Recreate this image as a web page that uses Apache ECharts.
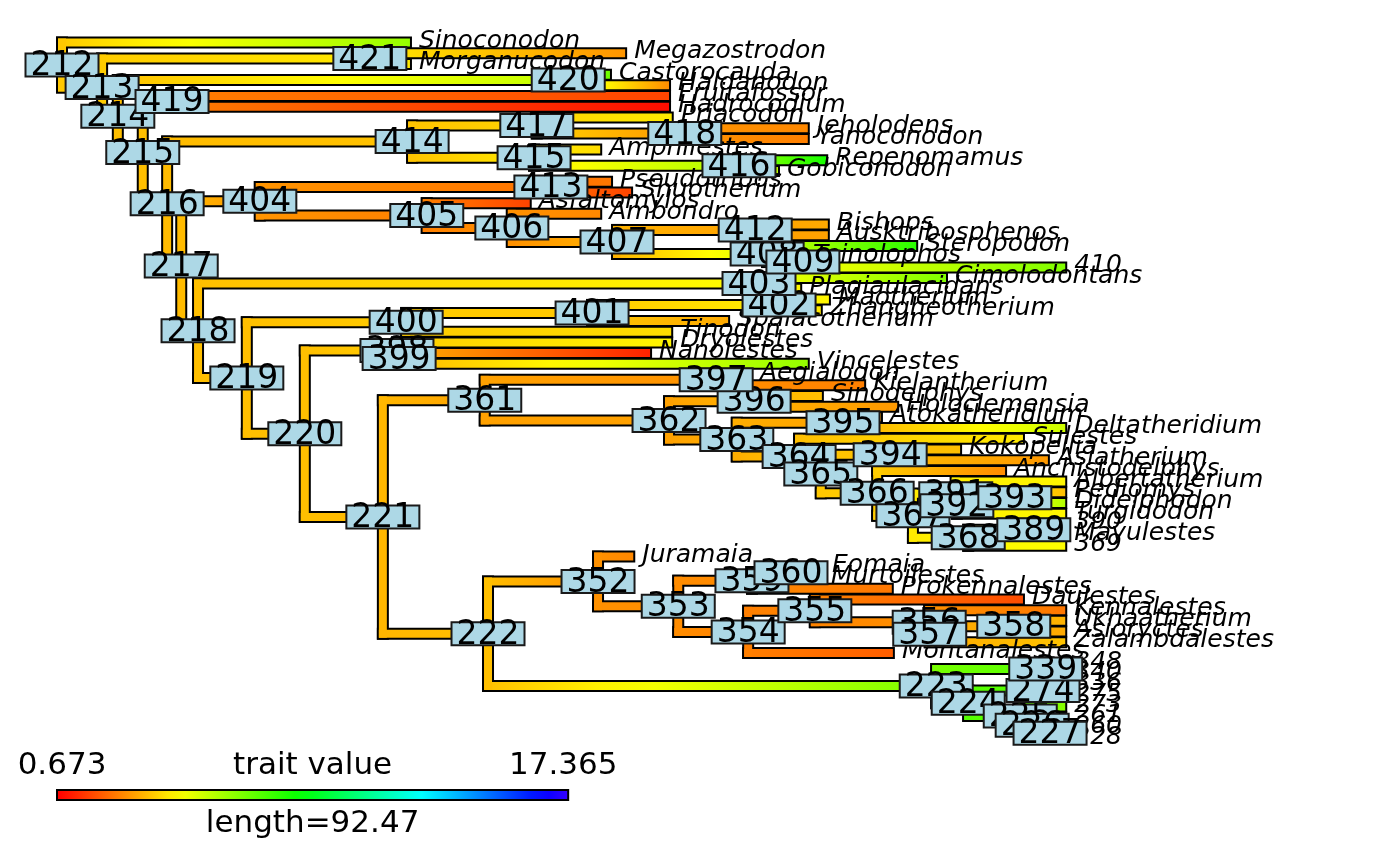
<!DOCTYPE html>
<html><head><meta charset="utf-8">
<script src="https://cdn.jsdelivr.net/npm/echarts@6/dist/echarts.min.js"></script>
<style>html,body{margin:0;padding:0;background:#fff}#c{width:1400px;height:866px}</style>
</head><body><div id="c"></div>
<script>
// ---------------- DATA ----------------
const tipNames = ['Sinoconodon','Megazostrodon','Morganucodon','Castorocauda','Haldanodon','Fruitafossor','Hadrocodium','Priacodon','Jeholodens','Yanoconodon','Amphilestes','Repenomamus','Gobiconodon','Pseudotribos','Shuotherium','Asfaltomylos','Ambondro','Bishops','Ausktribosphenos','Steropodon','Teinolophos','410','Cimolodontans','Plagiaulacidans','Maotherium','Zhangheotherium','Spalacotherium','Tinodon','Dryolestes','Nanolestes','Vincelestes','Aegialodon','Kielantherium','Sinodelphys','Holoclemensia','Atokatheridium','Deltatheridium','Sulestes','Kokopellia','Asiatherium','Anchistodelphys','Albertatherium','Pediomys','Didelphodon','Turgidodon','390','Mayulestes','369','Juramaia','Eomaia','Murtoilestes','Prokennalestes','Daulestes','Kennalestes','Ukhaatherium','Asioryctes','Zalambdalestes','Montanalestes','348','340','336','275','273','261','260','228'];
const tipTimes = [64.2,103.9,64.2,101.1,112.0,112.0,112.0,112.5,137.6,137.6,99.3,141.0,132.1,101.3,105.0,86.3,99.3,141.3,141.3,157.6,136.9,185.1,163.1,136.2,141.5,140.0,122.9,112.4,112.4,108.5,137.6,127.1,148.0,140.2,154.1,151.1,185.1,177.3,165.7,181.9,174.0,185.1,185.1,185.1,185.1,185.1,185.1,185.1,105.4,140.4,140.2,153.1,177.3,185.1,185.1,185.1,185.1,153.3,185.1,185.1,185.1,185.1,185.1,185.1,185.1,185.1];
const tipValues = [6.30,2.99,4.32,6.97,2.86,1.73,0.87,4.32,2.79,2.66,4.12,8.29,5.64,2.53,1.73,1.73,2.79,3.32,3.19,7.96,4.65,6.63,6.63,4.51,4.51,4.32,3.32,4.12,4.51,1.20,6.30,2.99,2.66,3.65,3.06,3.06,5.44,4.32,3.65,3.06,2.86,4.51,3.65,5.84,4.51,4.51,4.32,4.65,2.79,2.79,2.66,2.53,1.87,2.53,3.46,3.32,3.72,2.13,7.30,7.30,7.30,7.30,6.50,7.30,7.30,7.30];

const nodeIds = [212,213,421,214,420,215,419,216,414,417,418,415,416,217,404,413,405,406,407,412,408,409,218,403,219,400,401,402,220,398,399,221,361,397,362,396,363,395,364,365,394,366,367,391,392,393,368,389,222,352,353,359,360,354,355,356,357,358,223,339,224,274,225,226,227];
const nodeChildren = [
 ['Sinoconodon',213],[421,214],['Megazostrodon','Morganucodon'],[420,215],['Castorocauda','Haldanodon'],[419,216],['Fruitafossor','Hadrocodium'],[414,217],
 [417,415],['Priacodon',418],['Jeholodens','Yanoconodon'],['Amphilestes',416],['Repenomamus','Gobiconodon'],
 [404,218],[413,405],['Pseudotribos','Shuotherium'],['Asfaltomylos',406],['Ambondro',407],[412,408],['Bishops','Ausktribosphenos'],['Steropodon',409],['Teinolophos','410'],
 [403,219],['Cimolodontans','Plagiaulacidans'],[400,220],[401,'Tinodon'],[402,'Spalacotherium'],['Maotherium','Zhangheotherium'],
 [398,221],['Dryolestes',399],['Nanolestes','Vincelestes'],[361,222],[397,362],['Aegialodon','Kielantherium'],[396,363],['Sinodelphys','Holoclemensia'],
 [395,364],['Atokatheridium','Deltatheridium'],['Sulestes',365],[394,366],['Kokopellia','Asiatherium'],['Anchistodelphys',367],[391,368],['Albertatherium',392],
 [393,'Turgidodon'],['Pediomys','Didelphodon'],[389,'369'],['390','Mayulestes'],
 [352,223],['Juramaia',353],[359,354],[360,'Prokennalestes'],['Eomaia','Murtoilestes'],[355,'Montanalestes'],['Daulestes',356],['Kennalestes',357],[358,'Zalambdalestes'],['Ukhaatherium','Asioryctes'],
 [339,224],['348','340'],[274,225],['336','275'],['273',226],['261',227],['260','228']
];
const nodeTimes = [0,7.4,56.8,10.3,93.4,14.9,20.3,19.4,64.6,87.6,114.9,87.1,124.9,22.0,36.5,90.2,67.3,83.0,102.4,127.9,130.1,136.7,25.1,128.6,34.1,63.5,97.8,132.3,44.8,61.8,62.2,59.2,78.0,120.7,112.0,127.7,124.5,144.1,136.0,140.0,152.8,150.4,157.0,164.9,165.1,175.8,167.2,179.3,78.6,98.9,113.7,127.3,134.5,126.6,138.9,160.0,160.1,175.6,161.3,181.5,167.2,181.0,176.8,179.0,182.3];
const nodeValues = [3.79,3.85,4.32,3.65,5.64,3.65,2.66,3.59,3.72,3.98,2.99,4.32,5.97,3.59,2.99,2.46,2.66,2.93,3.46,3.19,5.31,4.78,3.65,4.65,3.65,3.85,3.79,4.38,3.65,3.85,3.46,3.52,3.19,2.93,3.19,3.46,3.39,3.19,3.65,3.79,3.59,3.85,4.32,4.38,4.45,4.32,4.51,4.51,3.65,2.93,2.86,2.79,2.73,2.66,2.73,2.93,3.32,3.39,6.77,7.30,7.30,7.30,7.16,7.30,7.30];

const traitRange = [0.673, 17.365];
const legendLength = 92.47;
const legendTitle = 'trait value';

// ---------------- LAYOUT ----------------
const W = 8, OUT = 2;
const X0_PX = 62, PX_PER_UNIT = 5.42, TIP0_PX = 42.5, TIP_GAP = 10.71;
const xMin = -X0_PX / PX_PER_UNIT, xMax = xMin + 1400 / PX_PER_UNIT;
const yMin = 1 - TIP0_PX / TIP_GAP, yMax = yMin + 866 / TIP_GAP;

function hueColor(h){
  h = ((h % 360) + 360) % 360;
  const x = 1 - Math.abs((h / 60) % 2 - 1);
  let r, g, b;
  if (h < 60) { r = 1; g = x; b = 0; } else if (h < 120) { r = x; g = 1; b = 0; }
  else if (h < 180) { r = 0; g = 1; b = x; } else if (h < 240) { r = 0; g = x; b = 1; }
  else if (h < 300) { r = x; g = 0; b = 1; } else { r = 1; g = 0; b = x; }
  return 'rgb(' + Math.round(r*255) + ',' + Math.round(g*255) + ',' + Math.round(b*255) + ')';
}
function valColor(v){
  let f = (v - traitRange[0]) / (traitRange[1] - traitRange[0]);
  f = Math.max(0, Math.min(1, f));
  return hueColor(f * 252);
}

// positions
const pos = {};
tipNames.forEach((n, i) => { pos['t:' + n] = {t: tipTimes[i], y: i + 1, v: tipValues[i]}; });
const nodeIndex = {};
nodeIds.forEach((id, i) => { nodeIndex[id] = i; });
function key(c){ return typeof c === 'number' ? 'n:' + c : 't:' + c; }
function nodePos(id){
  const k = 'n:' + id;
  if (pos[k]) return pos[k];
  const i = nodeIndex[id];
  const ys = nodeChildren[i].map(c => typeof c === 'number' ? nodePos(c).y : pos['t:' + c].y);
  const y = ys.reduce((a, b) => a + b, 0) / ys.length;
  pos[k] = {t: nodeTimes[i], y: y, v: nodeValues[i]};
  return pos[k];
}
nodeIds.forEach(id => nodePos(id));

// edges: [kind, t1, t2, y1, y2, v1, v2]
const edgeData = [];
nodeIds.forEach((id, i) => {
  const p = pos['n:' + id];
  nodeChildren[i].map(c => pos[key(c)]).forEach(c => edgeData.push([0, p.t, c.t, c.y, c.y, p.v, c.v]));
});
nodeIds.forEach((id, i) => {
  const p = pos['n:' + id];
  const ys = nodeChildren[i].map(c => pos[key(c)].y);
  edgeData.push([1, p.t, p.t, Math.min.apply(null, ys), Math.max.apply(null, ys), p.v, p.v]);
});

function makeEdgeRenderer(isBlack){
  return function(params, api){
    const kind = api.value(0);
    const a = api.coord([api.value(1), api.value(3)]);
    const b = api.coord([api.value(2), api.value(4)]);
    const v1 = api.value(5), v2 = api.value(6);
    const hw = W / 2 + (isBlack ? OUT : 0);
    let shape, fill;
    if (kind === 0) {
      const x0 = a[0] - W / 2 - (isBlack ? OUT : 0);
      const x1 = b[0] + (isBlack ? OUT : 0);
      shape = {x: x0, y: a[1] - hw, width: Math.max(0, x1 - x0), height: 2 * hw};
      if (isBlack) fill = '#000';
      else {
        const stops = [];
        for (let k = 0; k <= 8; k++) { const f = k / 8; stops.push({offset: f, color: valColor(v1 + (v2 - v1) * f)}); }
        fill = new echarts.graphic.LinearGradient(0, 0, 1, 0, stops);
      }
    } else {
      shape = {x: a[0] - hw, y: a[1] - hw, width: 2 * hw, height: (b[1] - a[1]) + 2 * hw};
      fill = isBlack ? '#000' : valColor(v1);
    }
    return {type: 'rect', shape: shape, style: {fill: fill}};
  };
}

const tipData = tipNames.map((n, i) => [tipTimes[i], i + 1, i]);
const sortedNodes = nodeIds.slice().sort((a, b) => a - b);
const nodeLabelData = sortedNodes.map(id => [pos['n:' + id].t, pos['n:' + id].y, id]);

const chart = echarts.init(document.getElementById('c'), null, {renderer: 'canvas'});
chart.setOption({
  animation: false,
  backgroundColor: '#fff',
  grid: {left: 0, top: 0, width: 1400, height: 866},
  xAxis: {type: 'value', min: xMin, max: xMax, show: false},
  yAxis: {type: 'value', min: yMin, max: yMax, inverse: true, show: false},
  series: [
    {type: 'custom', silent: true, z: 1, data: edgeData, encode: {x: [1, 2], y: [3, 4]}, renderItem: makeEdgeRenderer(true)},
    {type: 'custom', silent: true, z: 2, data: edgeData, encode: {x: [1, 2], y: [3, 4]}, renderItem: makeEdgeRenderer(false)},
    {type: 'custom', silent: true, z: 3, data: tipData, encode: {x: 0, y: 1},
      renderItem: function(params, api){
        const p = api.coord([api.value(0), api.value(1)]);
        return {type: 'text', x: p[0] + 9, y: p[1] - 1.5,
          style: {text: tipNames[api.value(2)], font: 'italic 25px "DejaVu Sans"', fill: '#000',
            textAlign: 'left', textVerticalAlign: 'middle', align: 'left', verticalAlign: 'middle'}};
      }},
    {type: 'custom', silent: true, z: 4, data: nodeLabelData, encode: {x: 0, y: 1},
      renderItem: function(params, api){
        const p = api.coord([api.value(0), api.value(1)]);
        return {type: 'group', children: [
          {type: 'rect', shape: {x: p[0] - 36.5, y: p[1] - 11.5, width: 73, height: 23},
            style: {fill: '#ADD8E6', stroke: '#1a1a1a', lineWidth: 2}},
          {type: 'text', x: p[0], y: p[1] + 1.5,
            style: {text: String(api.value(2)), font: '33px "DejaVu Sans"', fill: '#000',
              textAlign: 'center', textVerticalAlign: 'middle', align: 'center', verticalAlign: 'middle'}}
        ]};
      }},
    {type: 'custom', silent: true, z: 5, data: [[0, legendLength]], encode: {x: [0, 1]},
      renderItem: function(params, api){
        const a = api.coord([api.value(0), 1]);
        const b = api.coord([api.value(1), 1]);
        const yc = 795;
        const stops = [];
        for (let k = 0; k <= 28; k++) { const f = k / 28; stops.push({offset: f, color: hueColor(252 * f)}); }
        const font = '31px "DejaVu Sans"';
        const txt = (s, x, y) => ({type: 'text', x: x, y: y, style: {text: s, font: font, fill: '#000',
          textAlign: 'center', textVerticalAlign: 'middle', align: 'center', verticalAlign: 'middle'}});
        return {type: 'group', children: [
          {type: 'rect', shape: {x: a[0] - 4 - OUT, y: yc - 4 - OUT, width: b[0] - a[0] + 8 + 2 * OUT, height: 8 + 2 * OUT}, style: {fill: '#000'}},
          {type: 'rect', shape: {x: a[0] - 4, y: yc - 4, width: b[0] - a[0] + 8, height: 8},
            style: {fill: new echarts.graphic.LinearGradient(0, 0, 1, 0, stops)}},
          txt(traitRange[0].toFixed(3), a[0], 766),
          txt(traitRange[1].toFixed(3), b[0], 766),
          txt(legendTitle, (a[0] + b[0]) / 2, 766),
          txt('length=' + legendLength, (a[0] + b[0]) / 2, 824)
        ]};
      }}
  ]
});
</script>
</body></html>
